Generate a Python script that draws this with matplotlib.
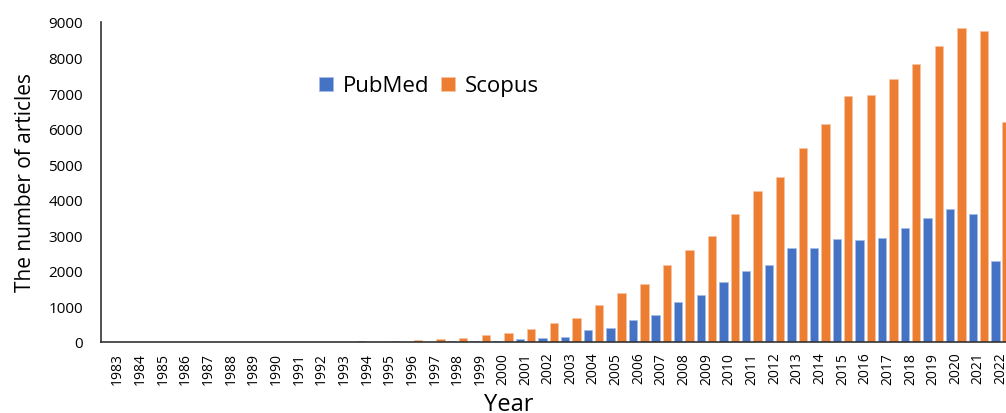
import numpy as np
import matplotlib
matplotlib.use('agg')
import matplotlib.pyplot as plt

plt.rcParams['font.family'] = ['Open Sans', 'DejaVu Sans']

years = list(range(1983, 2023))
pubmed = [0, 0, 0, 0, 0, 0, 0, 0, 0, 0, 0,
          30, 0, 0, 0, 30, 30, 35, 75, 120, 135, 335,
          390, 610, 760, 1130, 1330, 1690, 1990, 2160, 2650, 2650,
          2900, 2860, 2920, 3195, 3475, 3745, 3590, 2285]
scopus = [0, 0, 0, 0, 0, 0, 0, 0, 0, 0, 0,
          0, 30, 65, 90, 120, 205, 250, 355, 540, 670, 1035,
          1390, 1630, 2160, 2600, 2970, 3600, 4260, 4650, 5460, 6140,
          6910, 6950, 7390, 7810, 8320, 8830, 8760, 6200]

x = np.array(years)
w = 0.37

fig = plt.figure(figsize=(10.06, 4.14), dpi=100)
ax = fig.add_axes([101/1006, 71/414, 905/1006, 320/414])

ax.bar(x - 0.25, pubmed, width=w, color='#4472C4', edgecolor='#a9bde6', linewidth=0.5, label='PubMed')
ax.bar(x + 0.25, scopus, width=w, color='#ED7D31', edgecolor='#f7c4a3', linewidth=0.5, label='Scopus')

ax.set_xlim(1982.26, 2022.22)
ax.set_ylim(0, 9000)
ax.set_yticks(range(0, 9001, 1000))
ax.set_xticks(years)
ax.set_xticklabels([str(y) for y in years], rotation=90, fontsize=10)
ax.tick_params(axis='y', labelsize=11, length=0, pad=13)
ax.tick_params(axis='x', length=0, pad=7)

for s in ['top', 'right']:
    ax.spines[s].set_visible(False)
for s in ['left', 'bottom']:
    ax.spines[s].set_color('#333333')
    ax.spines[s].set_linewidth(1.2)

ax.set_ylabel('The number of articles', fontsize=15)
ax.yaxis.set_label_coords(-0.072, 0.5)
ax.set_xlabel('Year', fontsize=17)
ax.xaxis.set_label_coords(0.45, -0.155)

ax.legend(loc='center left', bbox_to_anchor=(0.229, 0.80), frameon=False, fontsize=16,
          borderpad=0, handlelength=0.6, handleheight=0.6, handletextpad=0.45,
          columnspacing=0.55, ncol=2)

plt.savefig('out.png', dpi=100)
